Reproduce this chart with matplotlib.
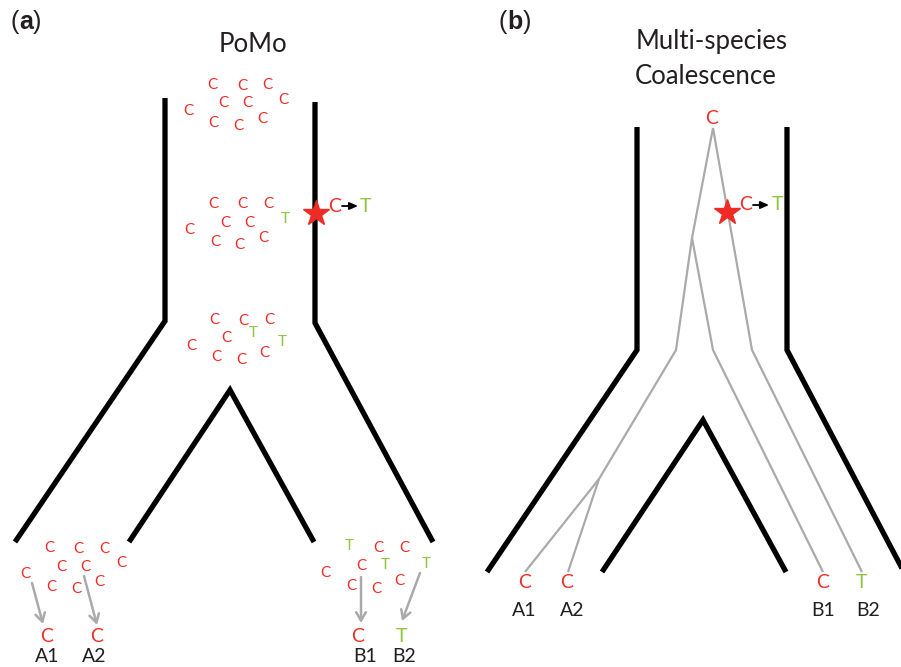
import matplotlib
matplotlib.use("Agg")
import matplotlib.pyplot as plt

RED = "#EE2B24"
GREEN = "#8DC63F"
GRAY = "#AAAAAA"
DARK = "#231F20"
FONT = "Lato"

# ---------------- data (diagram geometry, pixel coordinates) ----------------
# Panel (a) PoMo: species tree outline
a_left_outer = [(165, 98), (165, 321), (15, 542)]
a_right_outer = [(315, 102), (315, 323), (433, 542)]
a_inner_v = [(129, 542), (230, 390), (314, 542)]

# allele clusters (x, y, allele)
a_top = [(212, 85, "C"), (242, 86, "C"), (267, 85, "C"), (188, 111, "C"), (223, 103, "C"),
         (247, 103, "C"), (283, 100, "C"), (213, 123, "C"), (238, 126, "C"), (262, 119, "C")]
a_mid = [(213, 204, "C"), (242, 204, "C"), (268, 204, "C"), (189, 230, "C"), (225, 223, "C"),
         (249, 223, "C"), (285, 219, "T"), (215, 242, "C"), (239, 245, "C"), (263, 238, "C")]
a_bot = [(214, 320, "C"), (243, 321, "C"), (269, 320, "C"), (253, 333, "T"), (282, 342, "T"),
         (191, 346, "C"), (226, 338, "C"), (216, 357, "C"), (241, 360, "C"), (264, 353, "C")]
a_leafA = [(49, 548, "C"), (78, 549, "C"), (104, 549, "C"), (25, 574, "C"), (61, 567, "C"),
           (85, 567, "C"), (121, 563, "C"), (51, 587, "C"), (76, 589, "C"), (99, 582, "C")]
a_leafB = [(349, 546, "T"), (378, 548, "C"), (404, 548, "C"), (325, 573, "C"), (361, 566, "C"),
           (385, 565, "T"), (426, 564, "T"), (351, 586, "C"), (376, 589, "C"), (399, 581, "C")]
a_sample_arrows = [((32, 583), (43, 624)), ((84, 576), (97, 625)),
                   ((361, 577), (361, 623)), ((420, 573), (402, 621))]
a_samples = [(47, 637, "C"), (97, 637, "C"), (358, 637, "C"), (402, 637, "T")]
a_names = [(47, 657, "A1"), (94, 657, "A2"), (365, 657, "B1"), (404, 657, "B2")]
a_mutation = (316, 213)

# Panel (b) Multi-species coalescence
b_left_outer = [(637, 127), (637, 350), (487, 572)]
b_right_outer = [(787, 127), (787, 350), (905, 574)]
b_inner_v = [(602, 572), (703, 420), (786, 572)]
b_gene_lines = [
    [(713, 128), (692, 238), (676, 350), (599, 479), (525, 572)],
    [(599, 479), (568, 572)],
    [(692, 238), (713, 350), (823, 572)],
    [(713, 128), (752, 350), (862, 572)],
]
b_root = (712, 118, "C")
b_samples = [(525, 583, "C"), (567, 583, "C"), (823, 583, "C"), (862, 583, "T")]
b_names = [(524, 610, "A1"), (572, 610, "A2"), (823, 610, "B1"), (868, 610, "B2")]
b_mutation = (727, 212)

# ---------------- drawing ----------------
fig = plt.figure(figsize=(9.01, 6.67), dpi=100)
ax = fig.add_axes([0, 0, 1, 1])
ax.set_xlim(0, 901)
ax.set_ylim(667, 0)
ax.axis("off")


def poly(pts, **kw):
    xs, ys = zip(*pts)
    ax.plot(xs, ys, solid_joinstyle="miter", solid_capstyle="butt", **kw)


for p in (a_left_outer, a_right_outer, a_inner_v, b_left_outer, b_right_outer, b_inner_v):
    poly(p, color="black", lw=3.8, zorder=2)
for p in b_gene_lines:
    poly(p, color=GRAY, lw=1.6, zorder=1)


def allele(x, y, s, size):
    ax.text(x, y, s, color=RED if s == "C" else GREEN, fontsize=size, family=FONT,
            ha="center", va="center", zorder=4)


for cl in (a_top, a_mid, a_bot, a_leafA, a_leafB):
    for x, y, s in cl:
        allele(x, y, s, 11)

for (x0, y0), (x1, y1) in a_sample_arrows:
    ax.annotate("", xy=(x1, y1), xytext=(x0, y0),
                arrowprops=dict(arrowstyle="->,head_length=0.6,head_width=0.35",
                                color=GRAY, lw=1.8, shrinkA=0, shrinkB=0))

for x, y, s in a_samples + b_samples:
    allele(x, y, s, 14)
allele(*b_root, 14)
for x, y, s in a_names + b_names:
    ax.text(x, y, s, color=DARK, fontsize=14, family=FONT, ha="center", va="center")


def mutation(x, y):
    ax.plot([x], [y], marker="*", markersize=19, color=RED, mec=RED, zorder=5)
    ax.text(x + 19, y - 7, "C", color=RED, fontsize=14, family=FONT, ha="center", va="center")
    ax.annotate("", xy=(x + 42, y - 7), xytext=(x + 26, y - 7),
                arrowprops=dict(arrowstyle="-|>,head_length=0.5,head_width=0.22",
                                color="black", lw=1.3, shrinkA=0, shrinkB=0))
    ax.text(x + 50, y - 7, "T", color=GREEN, fontsize=14, family=FONT, ha="center", va="center")


mutation(*a_mutation)
mutation(*b_mutation)

# titles
ax.text(253, 44, "PoMo", fontsize=18.5, family=FONT, color=DARK, ha="center", va="center")
ax.text(712, 42, "Multi-species", fontsize=18.5, family=FONT, color=DARK, ha="center", va="center")
ax.text(706, 76, "Coalescence", fontsize=18.5, family=FONT, color=DARK, ha="center", va="center")


def panel_label(x, y, letter):
    t1 = ax.text(x, y, "(", fontsize=18, family="Liberation Sans", color=DARK, va="center", ha="left")
    t2 = ax.annotate(letter, xycoords=t1, xy=(1, 0), va="bottom", ha="left",
                     fontsize=18, family="Liberation Sans", weight="bold", color=DARK)
    ax.annotate(")", xycoords=t2, xy=(1, 0), va="bottom", ha="left",
                fontsize=18, family="Liberation Sans", color=DARK)


panel_label(11, 22, "a")
panel_label(499, 22, "b")

fig.savefig("out.png", dpi=100)
